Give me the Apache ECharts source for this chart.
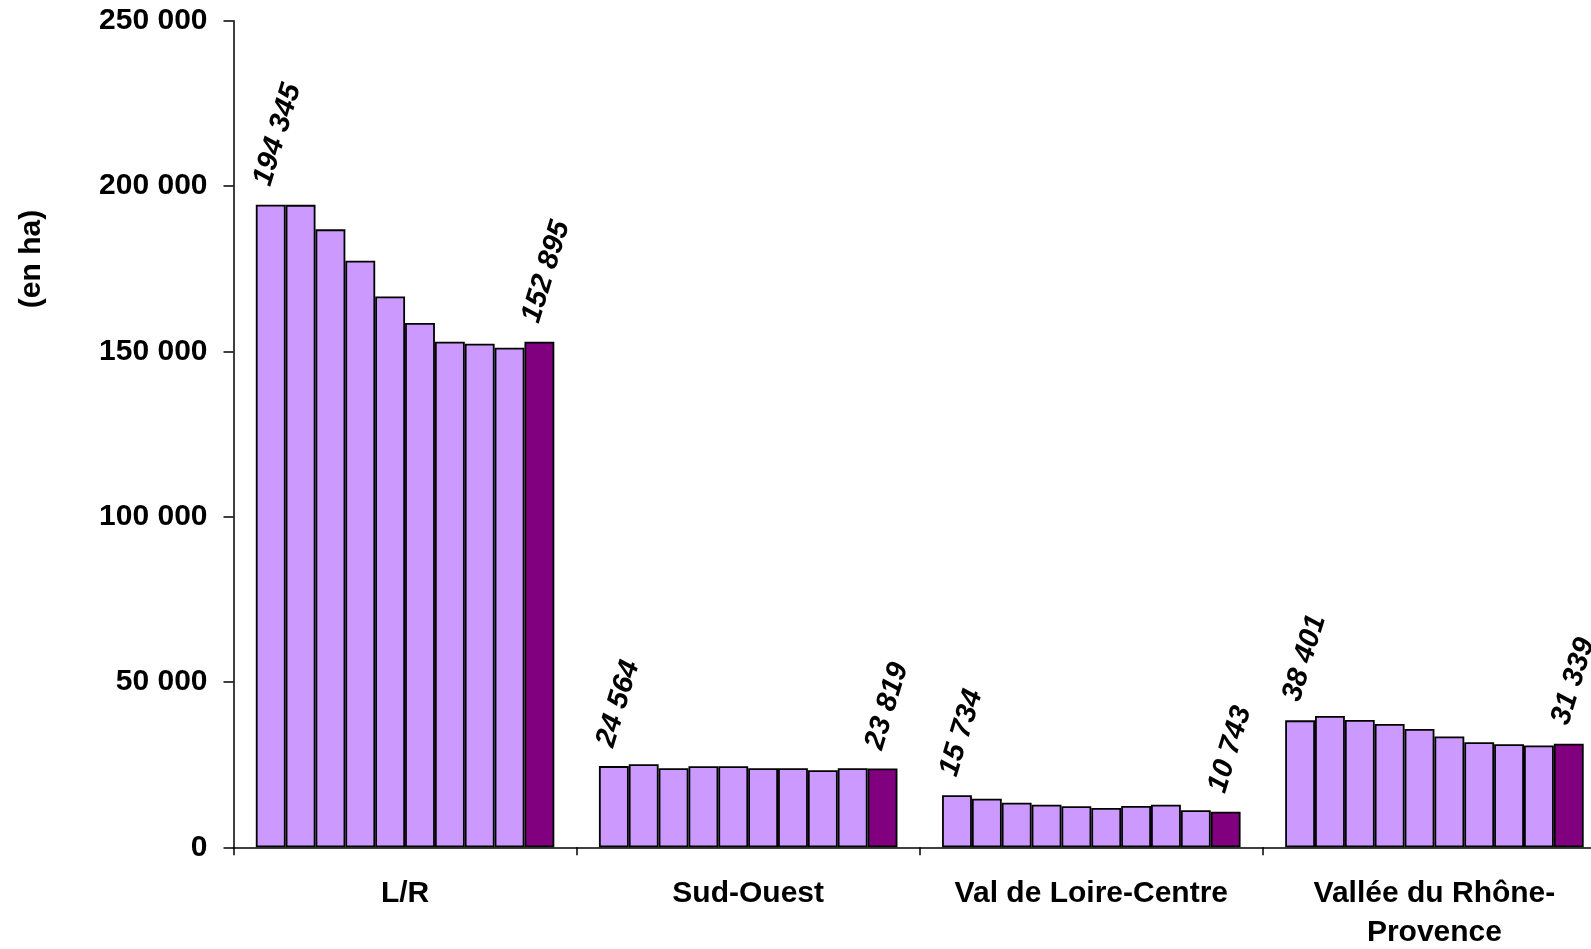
<!DOCTYPE html>
<html>
<head>
<meta charset="utf-8">
<script src="https://cdn.jsdelivr.net/npm/echarts@6/dist/echarts.min.js"></script>
<style>
  html, body { margin: 0; padding: 0; background: #fff; overflow: hidden; }
  #main { width: 1591px; height: 949px; }
</style>
</head>
<body>
<div id="main"></div>
<script>
var regions = ['L/R', 'Sud-Ouest', 'Val de Loire-Centre', 'Vallée du Rhône-\nProvence']
// 10 bars per region, the last one is the current year
var lr = [194345, 194300, 186900, 177400, 166600, 158600, 152900, 152300, 151100, 152895]
var sudOuest = [24564, 25100, 23900, 24500, 24500, 23900, 23900, 23300, 23900, 23819]
var valLoire = [15734, 14700, 13500, 12900, 12400, 11900, 12500, 12900, 11200, 10743]
var rhone = [38401, 39700, 38500, 37300, 35800, 33500, 31800, 31200, 30800, 31339]
var yTicks = [0, 50000, 100000, 150000, 200000, 250000]

var fontFam = '"Liberation Sans", Arial, sans-serif'

function fmt(v) {
  return String(v).replace(/\B(?=(\d{3})+(?!\d))/g, ' ')
}

var series = []
for (let i = 0; i < lr.length; i++) {
  let last = i == lr.length - 1
  series.push({
    type: 'bar',
    data: [lr[i], sudOuest[i], valLoire[i], rhone[i]],
    barGap: '0%',
    barCategoryGap: '13%',
    itemStyle: {
      color: last ? '#800080' : '#CC99FF',
      borderColor: '#000',
      borderWidth: 1.8
    },
    label: {
      show: i == 0 || last,
      position: 'top',
      rotate: 73,
      align: 'left',
      verticalAlign: 'middle',
      distance: 34,
      // offset is applied in the rotated frame
      offset: [-16, -4],
      color: '#000',
      fontFamily: fontFam,
      fontSize: 29,
      fontWeight: 'bold',
      fontStyle: 'italic',
      formatter: function (p) { return fmt(p.value) }
    },
    silent: true,
    animation: false
  })
}

var chart = echarts.init(document.getElementById('main'))
var option = {
  backgroundColor: '#fff',
  animation: false,
  grid: {
    left: 233.5,
    right: -15,
    top: 20.7,
    bottom: 101.7,
    containLabel: false,
    outerBoundsMode: 'none'
  },
  xAxis: {
    type: 'category',
    data: regions,
    axisLine: { lineStyle: { color: '#000', width: 1.5 } },
    axisTick: { show: true, length: 8, lineStyle: { color: '#000', width: 1.5 } },
    axisLabel: {
      margin: 27,
      interval: 0,
      color: '#000',
      fontFamily: fontFam,
      fontSize: 30,
      fontWeight: 'bold',
      lineHeight: 39
    }
  },
  yAxis: {
    type: 'value',
    min: yTicks[0],
    max: yTicks[yTicks.length - 1],
    interval: yTicks[1] - yTicks[0],
    splitLine: { show: false },
    axisLine: { show: true, lineStyle: { color: '#000', width: 1.5 } },
    axisTick: { show: true, length: 10, lineStyle: { color: '#000', width: 1.5 } },
    axisLabel: {
      margin: 26,
      color: '#000',
      fontFamily: fontFam,
      fontSize: 30,
      fontWeight: 'bold',
      formatter: fmt
    }
  },
  graphic: [{
    type: 'text',
    x: 31.5,
    y: 259,
    rotation: Math.PI / 2,
    style: {
      text: '(en ha)',
      fill: '#000',
      font: 'bold 30px "Liberation Sans", Arial, sans-serif',
      align: 'center',
      verticalAlign: 'middle'
    }
  }],
  series: series
}
chart.setOption(option)
</script>
</body>
</html>
